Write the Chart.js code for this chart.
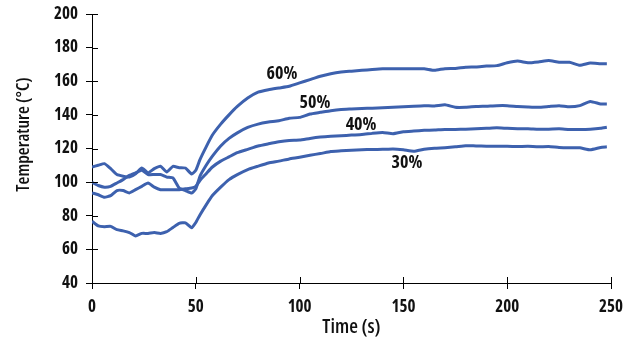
<!DOCTYPE html>
<html>
<head>
<meta charset="utf-8">
<script src="https://cdn.jsdelivr.net/npm/chart.js@4/dist/chart.umd.min.js"></script>
<style>
  html, body { margin: 0; padding: 0; background: #fff; }
  #wrap { width: 626px; height: 341px; }
</style>
</head>
<body>
<div id="wrap"><canvas id="tempChart"></canvas></div>
<script>
const FONT = "'Open Sans', 'DejaVu Sans Condensed', sans-serif";
const BLUE = '#3d61ae';

const time = [0, 3, 6, 9, 12, 15, 18, 21, 24, 27, 30, 33, 36, 39, 42, 45, 48, 50, 52, 55,
  58, 62, 66, 70, 75, 80, 85, 90, 95, 100, 105, 110, 115, 120, 125, 130, 135, 140, 145, 150,
  155, 160, 165, 170, 175, 180, 185, 190, 195, 200, 205, 210, 215, 220, 225, 230, 235, 240, 245, 248];

const pct60 = [109, 110, 111, 108, 104.5, 103.5, 103, 105, 108.4, 105.5, 108, 109.4, 106, 109.4, 108.6, 108.4, 104.8, 107, 113.4, 121,
  128, 134.5, 140, 145, 150, 153.5, 155, 156, 157, 159, 161, 163, 164.5, 165.5, 166, 166.5, 167, 167.4, 167.4, 167.4,
  167.4, 167.4, 166.5, 167.5, 167.6, 168.3, 168.5, 169, 169.3, 171, 172, 171, 171.5, 172.3, 171.3, 171.3, 169.5, 170.8, 170.4, 170.4];

const pct50 = [99.9, 98, 97, 97.5, 99.5, 101.5, 104, 105.5, 107, 104.5, 104.5, 104.5, 103, 102.5, 96.5, 95, 93.5, 96, 103.5, 110,
  115.5, 121.5, 126, 129.3, 132.5, 134.5, 135.7, 136.5, 138, 138.5, 140.5, 141.5, 142.5, 143.2, 143.5, 143.8, 144, 144.2, 144.5, 144.8,
  145.2, 145.5, 145.3, 146, 144.5, 144.5, 145, 145.2, 145.5, 145.5, 145, 144.7, 144.5, 145, 145.5, 144.8, 145.5, 148, 146.5, 146.5];

const pct40 = [93.6, 92.5, 91, 92, 95, 95, 93.6, 95.5, 97.5, 99.5, 97, 95.5, 95.5, 95.5, 95.5, 96, 96.5, 97.5, 101, 105,
  109, 112.5, 115, 117.5, 119.5, 121.5, 122.8, 124, 124.8, 125, 126, 126.8, 127.3, 127.6, 128, 128.3, 129, 129.5, 128.8, 130,
  130.4, 130.8, 131, 131.3, 131.3, 131.5, 131.8, 132, 132.3, 132, 131.8, 131.8, 131.5, 131.5, 131.7, 131.3, 131.3, 131.5, 132, 132.6];

const pct30 = [76.7, 74, 73.5, 73.7, 71.7, 71, 70, 68, 69.5, 69.5, 70, 69.5, 70.5, 73, 75.5, 75.8, 72.8, 76, 80.5, 86.5,
  92, 97, 101.5, 104.5, 107.5, 109.5, 111.4, 112.5, 113.8, 114.8, 116, 117, 118.2, 118.6, 119, 119.3, 119.4, 119.5, 119.7, 119.2,
  118.4, 119.6, 120.2, 120.5, 121, 121.7, 121.5, 121.4, 121.3, 121.3, 121.2, 121.3, 121, 121.2, 120.6, 120.4, 120.4, 119.2, 120.6, 121];

const seriesNames = ['60%', '50%', '40%', '30%'];
const seriesValues = [pct60, pct50, pct40, pct30];
// where each curve label sits, in data units (time, temperature)
const labelTime = [91.5, 107.4, 129.6, 151.7];
const labelTemp = [164.6, 147.3, 134.2, 111.6];

const xTicks = [0, 50, 100, 150, 200, 250];
const yTicks = [40, 60, 80, 100, 120, 140, 160, 180, 200];
const yTitle = 'Temperature (°C)';

const datasets = seriesValues.map((vals, i) => ({
  label: seriesNames[i],
  data: time.map((t, j) => ({ x: t, y: vals[j] })),
  borderColor: BLUE,
  borderWidth: 3,
  pointRadius: 0,
  tension: 0.15,
  fill: false
}));

// ticks in the reference cross the axis line, chart.js only draws the outer half
const innerTicks = {
  id: 'innerTicks',
  afterDraw(chart) {
    const c = chart.ctx, x = chart.scales.x, y = chart.scales.y, a = chart.chartArea;
    c.save();
    c.strokeStyle = '#000';
    c.lineWidth = 1;
    c.beginPath();
    xTicks.forEach(v => {
      const px = Math.round(x.getPixelForValue(v)) + 0.5;
      c.moveTo(px, a.bottom);
      c.lineTo(px, a.bottom - 6);
    });
    yTicks.forEach(v => {
      const py = Math.round(y.getPixelForValue(v)) + 0.5;
      c.moveTo(a.left, py);
      c.lineTo(a.left + 6, py);
    });
    c.stroke();
    c.restore();
  }
};

// curve labels + the y title (sits a bit above centre in the original)
const textBits = {
  id: 'textBits',
  afterDatasetsDraw(chart) {
    const c = chart.ctx, x = chart.scales.x, y = chart.scales.y, a = chart.chartArea;
    c.save();
    c.fillStyle = '#111';
    c.font = 'bold condensed 18px ' + FONT;
    c.textAlign = 'center';
    c.textBaseline = 'middle';
    seriesNames.forEach((name, i) => {
      c.fillText(name, x.getPixelForValue(labelTime[i]), y.getPixelForValue(labelTemp[i]));
    });
    c.font = '600 condensed 18px ' + FONT;
    c.translate(24, (a.top + a.bottom) / 2 - 14);
    c.rotate(-Math.PI / 2);
    c.fillText(yTitle, 0, 0);
    c.restore();
  }
};

const tickFont = { family: FONT, size: 17, weight: 'bold condensed' };

const ctx = document.getElementById('tempChart').getContext('2d');
let chart = new Chart(ctx, {
  type: 'line',
  data: { datasets: datasets },
  options: {
    responsive: true,
    maintainAspectRatio: false,
    animation: false,
    layout: { padding: { top: 14, right: 15, left: 0, bottom: 0 } },
    plugins: { legend: { display: false }, tooltip: { enabled: false } },
    scales: {
      x: {
        type: 'linear',
        min: 0, max: 250,
        afterBuildTicks: s => { s.ticks = xTicks.map(v => ({ value: v })); },
        afterFit: s => { s.height = 58; s.paddingLeft = 0; s.paddingRight = 0; },
        grid: { drawOnChartArea: false, tickLength: 6, color: '#000', tickColor: '#000' },
        border: { display: true, color: '#000', width: 1 },
        ticks: { color: '#111', padding: 8, maxRotation: 0, font: tickFont },
        title: { display: true, text: 'Time (s)', color: '#111', padding: { top: 0, bottom: 2 },
                 font: { family: FONT, size: 20, weight: '600 condensed' } }
      },
      y: {
        min: 40, max: 200,
        afterBuildTicks: s => { s.ticks = yTicks.map(v => ({ value: v })); },
        afterFit: s => { s.width = 92; s.paddingTop = 0; s.paddingBottom = 0; },
        grid: { drawOnChartArea: false, tickLength: 6, color: '#000', tickColor: '#000' },
        border: { display: true, color: '#000', width: 1 },
        ticks: { color: '#111', padding: 8, font: tickFont }
      }
    }
  },
  plugins: [innerTicks, textBits]
});
</script>
</body>
</html>
